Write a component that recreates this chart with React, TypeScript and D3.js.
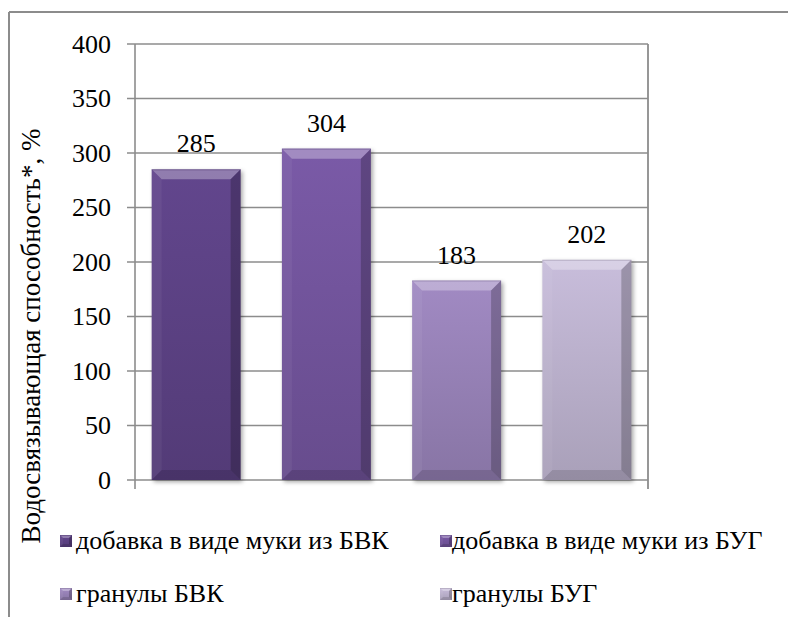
import React from "react";
import * as d3 from "d3";

// Water-binding capacity of the additives, %
const seriesNames = [
  "добавка в виде муки из БВК",
  "добавка в виде муки из БУГ",
  "гранулы БВК",
  "гранулы БУГ",
];
const seriesValues = [285, 304, 183, 202];
const seriesColors = ["#5e4387", "#7556a0", "#9a84bb", "#c0b5d2"];
const yTicks = [0, 50, 100, 150, 200, 250, 300, 350, 400];
const yTitle = "Водосвязывающая способность*, %";

const W = 788;
const H = 617;
const plot = { left: 135, right: 648, top: 44, bottom: 480 };
const FONT = "Liberation Serif";
const GRID = "#8c8c8c";
const textStyle: React.CSSProperties = { fontFamily: FONT, fontSize: 26 };
const titleStyle: React.CSSProperties = { fontFamily: FONT, fontSize: 27 };

function Bevel({ x, y, w, h, color, id, b }: { x: number; y: number; w: number; h: number; color: string; id: string; b: number }) {
  const c = d3.color(color)!;
  const top = d3.color(color)!.brighter(0.12).toString();
  const bottom = d3.color(color)!.darker(0.35).toString();
  const bb = Math.min(b, h / 2, w / 2);
  return (
    <g>
      <defs>
        <linearGradient id={id} x1="0" y1="0" x2="0" y2="1">
          <stop offset="0" stopColor={top} />
          <stop offset="1" stopColor={bottom} />
        </linearGradient>
      </defs>
      <rect x={x} y={y} width={w} height={h} fill={`url(#${id})`} />
      {/* top facet */}
      <polygon
        points={`${x},${y} ${x + w},${y} ${x + w - bb},${y + bb} ${x + bb},${y + bb}`}
        fill="#ffffff"
        fillOpacity={0.3}
      />
      {/* left facet */}
      <polygon
        points={`${x},${y} ${x + bb},${y + bb} ${x + bb},${y + h - bb} ${x},${y + h}`}
        fill="#ffffff"
        fillOpacity={0.05}
      />
      {/* right facet */}
      <polygon
        points={`${x + w},${y} ${x + w},${y + h} ${x + w - bb},${y + h - bb} ${x + w - bb},${y + bb}`}
        fill="#000000"
        fillOpacity={0.22}
      />
      {/* bottom facet */}
      <polygon
        points={`${x},${y + h} ${x + w},${y + h} ${x + w - bb},${y + h - bb} ${x + bb},${y + h - bb}`}
        fill="#000000"
        fillOpacity={0.12}
      />
      <line x1={x} x2={x + w} y1={y + 0.5} y2={y + 0.5} stroke={c.darker(0.6).toString()} strokeOpacity={0.5} strokeWidth={1} />
    </g>
  );
}

export default function App() {
  const y = d3.scaleLinear().domain([0, 400]).range([plot.bottom, plot.top]);
  const x = d3
    .scaleBand<string>()
    .domain(seriesNames)
    .range([plot.left, plot.right])
    .paddingInner(0.317)
    .paddingOuter(0.128);

  const legendItems = seriesNames.map((name, i) => ({
    name,
    color: seriesColors[i],
    mx: i % 2 === 0 ? 60 : 440,
    tx: i % 2 === 0 ? 76 : 452,
    cy: i < 2 ? 541 : 594,
  }));

  return (
    <svg
      width={W}
      height={H}
      style={{ position: "absolute", left: 0, top: 0, background: "#fff" }}
    >
      <defs>
        <filter id="shadow" x="-20%" y="-20%" width="140%" height="140%">
          <feGaussianBlur stdDeviation="2" />
        </filter>
      </defs>
      <rect width={W} height={H} fill="#fff" />

      {/* outer frame */}
      <line x1={9} x2={W} y1={12} y2={12} stroke={GRID} strokeWidth={2} />
      <line x1={9} x2={9} y1={12} y2={H} stroke={GRID} strokeWidth={2} />

      {/* gridlines and y ticks */}
      {yTicks.map((t) => (
        <g key={t}>
          <line x1={plot.left - 8} x2={plot.right} y1={y(t)} y2={y(t)} stroke={GRID} strokeWidth={1.6} />
          <text x={111} y={y(t)} dy="0.34em" textAnchor="end" style={textStyle} fill="#000">
            {t}
          </text>
        </g>
      ))}

      {/* axis and right border */}
      <line x1={plot.left} x2={plot.left} y1={plot.top} y2={plot.bottom + 9} stroke={GRID} strokeWidth={1.6} />
      <line x1={plot.right} x2={plot.right} y1={plot.top} y2={plot.bottom + 9} stroke={GRID} strokeWidth={1.8} />

      {/* bars */}
      {seriesNames.map((name, i) => {
        const bx = x(name)!;
        const bw = x.bandwidth();
        const by = y(seriesValues[i]);
        const bh = y(0) - by;
        return (
          <g key={name}>
            <rect x={bx + 2} y={by + 2} width={bw} height={bh} fill="#000" fillOpacity={0.35} filter="url(#shadow)" />
            <Bevel x={bx} y={by} w={bw} h={bh} color={seriesColors[i]} id={`g${i}`} b={10} />
            <text x={bx + bw / 2} y={by - 17} textAnchor="middle" style={textStyle} fill="#000">
              {seriesValues[i]}
            </text>
          </g>
        );
      })}

      {/* y title */}
      <text
        transform={`translate(40, 336) rotate(-90)`}
        textAnchor="middle"
        style={titleStyle}
        fill="#000"
      >
        {yTitle}
      </text>

      {/* legend */}
      {legendItems.map((it, i) => (
        <g key={it.name}>
          <Bevel x={it.mx} y={it.cy - 6} w={12} h={12} color={it.color} id={`l${i}`} b={3} />
          <text x={it.tx} y={it.cy} dy="0.32em" style={textStyle} fill="#000">
            {it.name}
          </text>
        </g>
      ))}
    </svg>
  );
}
